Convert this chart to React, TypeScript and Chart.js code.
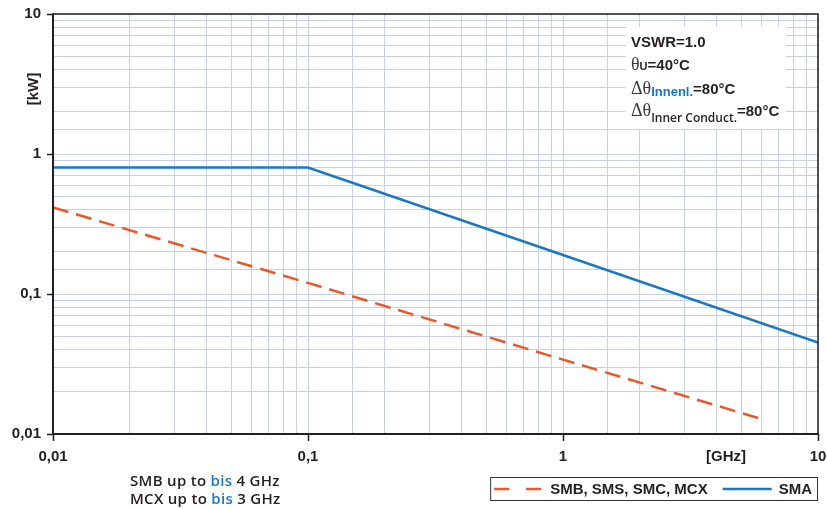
import React, { useEffect, useRef } from 'react';
import { Chart, registerables } from 'chart.js';

Chart.register(...registerables);

// ---------- data ----------
const smbFreqGHz = [0.01, 0.1, 1, 6];
const smbPowerKW = [0.415, 0.12, 0.034, 0.0128];
const smaFreqGHz = [0.01, 0.1, 1, 10];
const smaPowerKW = [0.8, 0.8, 0.19, 0.045];
const seriesLabels = ['SMB, SMS, SMC, MCX', 'SMA'];
const seriesColors = ['#e8582a', '#1a78c2'];
const xMajorValues = [0.01, 0.1, 1, 10];
const xTickLabels = ['0,01', '0,1', '1', '10'];
const yMajorValues = [0.01, 0.1, 1, 10];
const yTickLabels = ['0,01', '0,1', '1', '10'];
const xUnitLabel = '[GHz]';
const yUnitLabel = '[kW]';
const noteLines = [
  ['SMB up to ', 'bis', ' 4 GHz'],
  ['MCX up to ', 'bis', ' 3 GHz'],
];
const infoLine1 = 'VSWR=1.0';
const infoLine2 = ['θ', 'U', '=40°C'];
const infoLine3 = ['Δθ', 'Innenl.', '=80°C'];
const infoLine4 = ['Δθ', 'Inner Conduct.', '=80°C'];

// ---------- styles ----------
const SANS = "'Liberation Sans', Arial, sans-serif";
const NOTE_FONT = "600 15px 'Open Sans', sans-serif";
const SERIF = "'Liberation Serif', 'Times New Roman', serif";
const TEXT = '#231f20';
const BLUE_TEXT = '#1a78c2';
const GRID = '#c9d3e0';

const isMajor = (v: number, majors: number[]) =>
  majors.findIndex((m) => Math.abs(Math.log10(v) - Math.log10(m)) < 1e-6);

type Run = { text: string; font: string; color: string; dy?: number };

function drawRuns(ctx: CanvasRenderingContext2D, x: number, y: number, runs: Run[]) {
  let cx = x;
  for (const r of runs) {
    ctx.font = r.font;
    ctx.fillStyle = r.color;
    ctx.fillText(r.text, cx, y + (r.dy || 0));
    cx += ctx.measureText(r.text).width;
  }
  return cx;
}

const decorPlugin = {
  id: 'decor',
  afterDatasetsDraw(chart: any) {
    const { ctx, chartArea: a } = chart;
    ctx.save();
    // info box (white, covers grid)
    const bx = a.right - 192;
    const by = a.top + 13;
    ctx.fillStyle = '#ffffff';
    ctx.fillRect(bx, by, 160, 102);
    ctx.textBaseline = 'alphabetic';
    ctx.textAlign = 'left';
    const tx = bx + 5;
    const bold15 = `bold 15px ${SANS}`;
    const sym = `18px ${SERIF}`;
    drawRuns(ctx, tx, by + 20, [{ text: infoLine1, font: bold15, color: TEXT }]);
    drawRuns(ctx, tx, by + 43, [
      { text: infoLine2[0], font: sym, color: '#3a3a3a' },
      { text: infoLine2[1], font: `bold 11px ${SANS}`, color: TEXT },
      { text: infoLine2[2], font: bold15, color: TEXT },
    ]);
    drawRuns(ctx, tx, by + 67, [
      { text: infoLine3[0], font: sym, color: '#3a3a3a' },
      { text: infoLine3[1], font: `bold 13px ${SANS}`, color: BLUE_TEXT, dy: 2 },
      { text: infoLine3[2], font: bold15, color: TEXT },
    ]);
    drawRuns(ctx, tx, by + 89, [
      { text: infoLine4[0], font: sym, color: '#3a3a3a' },
      { text: infoLine4[1], font: `600 12px 'Open Sans', sans-serif`, color: TEXT, dy: 6 },
      { text: infoLine4[2], font: bold15, color: TEXT },
    ]);
    ctx.restore();
  },
  afterDraw(chart: any) {
    const { ctx, chartArea: a } = chart;
    ctx.save();
    // frame
    ctx.strokeStyle = TEXT;
    ctx.lineWidth = 1.5;
    ctx.beginPath();
    ctx.moveTo(a.left, a.top);
    ctx.lineTo(a.right, a.top);
    ctx.lineTo(a.right, a.bottom);
    ctx.stroke();
    ctx.lineWidth = 2;
    ctx.beginPath();
    ctx.moveTo(a.left, a.top - 0.75);
    ctx.lineTo(a.left, a.bottom);
    ctx.lineTo(a.right + 0.75, a.bottom);
    ctx.stroke();

    // unit labels
    ctx.fillStyle = TEXT;
    ctx.font = `bold 15px ${SANS}`;
    ctx.textAlign = 'center';
    ctx.textBaseline = 'middle';
    ctx.fillText(xUnitLabel, a.right - 92, a.bottom + 23);
    ctx.save();
    ctx.translate(a.left - 19, a.top + 75);
    ctx.rotate(-Math.PI / 2);
    ctx.fillText(yUnitLabel, 0, 0);
    ctx.restore();

    // notes
    ctx.textAlign = 'left';
    ctx.textBaseline = 'alphabetic';
    (ctx as any).letterSpacing = '0.3px';
    noteLines.forEach((line, i) => {
      drawRuns(ctx, 130, a.bottom + 52 + i * 17.5, [
        { text: line[0], font: NOTE_FONT, color: TEXT },
        { text: line[1], font: NOTE_FONT, color: BLUE_TEXT },
        { text: line[2], font: NOTE_FONT, color: TEXT },
      ]);
    });
    (ctx as any).letterSpacing = '0px';

    // legend
    const ds = chart.data.datasets;
    ctx.font = `bold 15px ${SANS}`;
    const sampleW = 49;
    const widths = ds.map((d: any) => ctx.measureText(d.label).width);
    let total = 4 + 6;
    widths.forEach((w: number, i: number) => {
      total += sampleW + 7 + w + (i > 0 ? 15 : 0);
    });
    const lx = a.right - total;
    const ly = a.bottom + 43;
    const lh = 24;
    ctx.fillStyle = '#ffffff';
    ctx.fillRect(lx, ly, total, lh);
    ctx.strokeStyle = '#333333';
    ctx.lineWidth = 1;
    ctx.strokeRect(lx + 0.5, ly + 0.5, total - 1, lh - 1);
    let cx = lx + 4;
    const cy = ly + 12;
    ds.forEach((d: any, i: number) => {
      ctx.strokeStyle = d.borderColor;
      ctx.lineWidth = 2.5;
      ctx.setLineDash(d.borderDash && d.borderDash.length ? [15, 17] : []);
      ctx.beginPath();
      ctx.moveTo(cx, cy);
      ctx.lineTo(cx + sampleW, cy);
      ctx.stroke();
      ctx.setLineDash([]);
      cx += sampleW + 7;
      ctx.fillStyle = TEXT;
      ctx.textBaseline = 'middle';
      ctx.fillText(d.label, cx, cy + 1);
      cx += widths[i] + 15;
    });
    ctx.restore();
  },
};

export default function App() {
  const canvasRef = useRef<HTMLCanvasElement | null>(null);

  useEffect(() => {
    document.body.style.margin = '0';
    const canvas = canvasRef.current;
    if (!canvas) return;
    const chart = new Chart(canvas, {
      type: 'line',
      data: {
        datasets: [
          {
            label: seriesLabels[0],
            data: smbFreqGHz.map((f, i) => ({ x: f, y: smbPowerKW[i] })),
            borderColor: seriesColors[0],
            borderWidth: 2.5,
            borderDash: [16, 8],
            pointRadius: 0,
            fill: false,
            tension: 0,
          },
          {
            label: seriesLabels[1],
            data: smaFreqGHz.map((f, i) => ({ x: f, y: smaPowerKW[i] })),
            borderColor: seriesColors[1],
            borderWidth: 2.5,
            pointRadius: 0,
            fill: false,
            tension: 0,
          },
        ],
      },
      options: {
        animation: false,
        responsive: false,
        devicePixelRatio: 1,
        layout: { padding: { left: 0, top: 14, right: 9, bottom: 0 } },
        plugins: {
          legend: { display: false },
          tooltip: { enabled: false },
        },
        scales: {
          x: {
            type: 'logarithmic',
            min: 0.01,
            max: 10,
            border: { display: false },
            grid: {
              color: GRID,
              lineWidth: 1,
              tickLength: 7,
              tickWidth: 1.5,
              tickColor: (c: any) => (isMajor(c.tick.value, xMajorValues) >= 0 ? TEXT : 'rgba(0,0,0,0)'),
            },
            ticks: {
              autoSkip: false,
              maxRotation: 0,
              padding: 7,
              color: TEXT,
              font: { family: SANS, size: 15, weight: 'bold' },
              callback: (v: any) => {
                const i = isMajor(Number(v), xMajorValues);
                return i >= 0 ? xTickLabels[i] : '';
              },
            },
            afterFit: (s: any) => {
              s.height = 75;
              s.paddingLeft = 0;
              s.paddingRight = 0;
            },
          },
          y: {
            type: 'logarithmic',
            min: 0.01,
            max: 10,
            border: { display: false },
            grid: {
              color: GRID,
              lineWidth: 1,
              tickLength: 6,
              tickWidth: 1.5,
              tickColor: (c: any) => (isMajor(c.tick.value, yMajorValues) >= 0 ? TEXT : 'rgba(0,0,0,0)'),
            },
            ticks: {
              autoSkip: false,
              padding: 6,
              color: TEXT,
              font: { family: SANS, size: 15, weight: 'bold' },
              callback: (v: any) => {
                const i = isMajor(Number(v), yMajorValues);
                return i >= 0 ? yTickLabels[i] : '';
              },
            },
            afterFit: (s: any) => {
              s.width = 53;
              s.paddingTop = 0;
              s.paddingBottom = 0;
            },
          },
        },
      },
      plugins: [decorPlugin],
    } as any);
    return () => chart.destroy();
  }, []);

  return (
    <div style={{ position: 'absolute', left: 0, top: 0, width: 827, height: 509, background: '#fff' }}>
      <canvas ref={canvasRef} width={827} height={509} />
    </div>
  );
}
